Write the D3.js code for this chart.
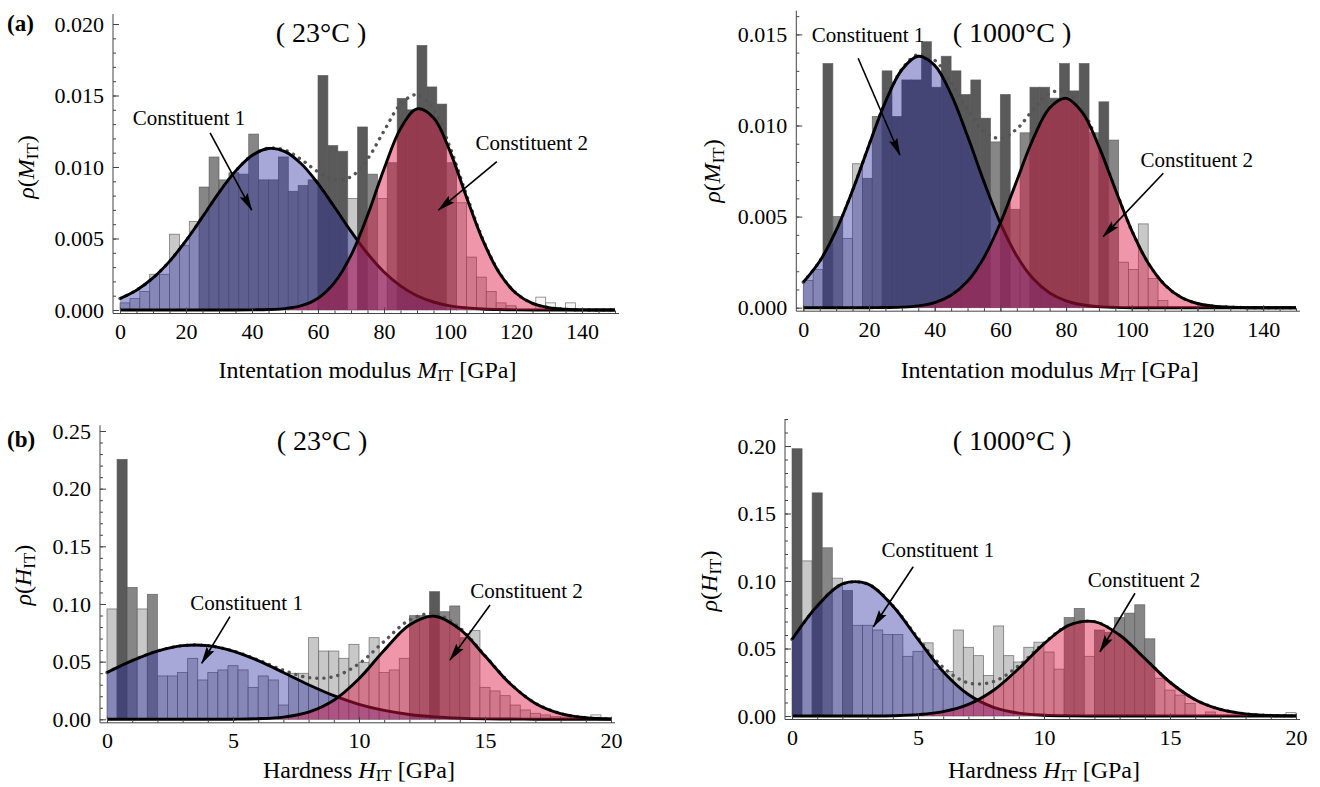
<!DOCTYPE html>
<html>
<head>
<meta charset="utf-8">
<script src="https://cdn.jsdelivr.net/npm/d3@7"></script>
<style>
  body { margin: 0; background: #fff; }
  svg { display: block; font-family: "Liberation Serif", "Times New Roman", serif; }
</style>
</head>
<body>
<svg id="fig" width="1320" height="787"></svg>
<script>
// ---------------- data ----------------
const modulusBinWidth = 3;     // GPa
const hardnessBinWidth = 0.4;  // GPa

// sample positions of the fitted density curves
const modulusGrid = [0,5,10,15,20,25,30,35,40,45,50,55,60,65,70,75,80,85,90,95,100,105,110,115,120,125,130,135,140,145,150];
const hardnessGrid = [0,1,2,3,4,5,6,7,8,9,10,11,12,13,14,15,16,17,18,19,20];

// (a) indentation modulus, 23 °C
const m23Hist = [0.0005,0.0008,0.0013,0.0025,0.0025,0.0053,0.0045,0.0062,0.0086,0.0107,
                 0.0091,0.0096,0.0095,0.0123,0.0091,0.0091,0.0107,0.0083,0.0087,0.0091,
                 0.0164,0.0115,0.0111,0.0078,0.0128,0.0095,0.0078,0.0103,0.0148,0.0140,
                 0.0185,0.0156,0.0144,0.0103,0.0075,0.0037,0.0023,0.0013,0.0005,0.0003,
                 0,0,0.0009,0.0005,0,0.0005,0,0,0,0];
const m23Overlap = [1,1,1,1,1,1,1,1,2,2, 2,2,2,2,2,2,2,2,2,2,
                    3,3,3,1,3,2,1,2,3,3, 3,3,3,2,1,1,1,1,1,1,
                    0,0,0,0,0,0,0,0,0,0];
const m23C1 = [0.00080,0.00138,0.00224,0.00340,0.00485,0.00651,0.00821,0.00971,0.01080,0.01129,0.01108,
               0.01021,0.00884,0.00720,0.00550,0.00395,0.00266,0.00169,0.00100,0.00056,0.00029,
               0.00015,0.00007,0.00003,0.00001,0,0,0,0,0,0];
const m23C2 = [0,0,0,0,0,0,0,0,0.00001,0.00003,0.00010,
               0.00030,0.00082,0.00191,0.00382,0.00661,0.00986,0.01268,0.01406,0.01345,0.01109,
               0.00789,0.00485,0.00257,0.00117,0.00046,0.00016,0.00005,0.00001,0,0];
const m23Sum = [0.00080,0.00138,0.00224,0.00340,0.00485,0.00651,0.00821,0.00971,0.01081,0.01132,0.01118,
                0.01051,0.00966,0.00911,0.00932,0.01056,0.01252,0.01437,0.01506,0.01401,0.01138,
                0.00804,0.00492,0.00260,0.00118,0.00046,0.00016,0.00005,0.00001,0,0];

// (a) indentation modulus, 1000 °C
const m1000Hist = [0.0015,0.0021,0.0134,0.0050,0.0038,0.0079,0.0071,0.0105,0.0130,0.0105,
                   0.0125,0.0125,0.0146,0.0121,0.0138,0.0130,0.0117,0.0125,0.0104,0.0091,
                   0.0117,0.0054,0.0096,0.0121,0.0121,0.0115,0.0134,0.0119,0.0134,0.0096,
                   0.0113,0.0092,0.0025,0.0021,0.0046,0.0016,0.0004,0,0,0,
                   0,0,0,0,0,0,0,0,0,0];
const m1000Overlap = [1,1,3,2,1,1,2,2,3,3, 3,3,3,3,3,3,3,3,3,2,
                      3,2,2,3,3,3,3,3,3,2, 3,2,1,1,1,1,1,0,0,0,
                      0,0,0,0,0,0,0,0,0,0];
const m1000C1 = [0.00140,0.00255,0.00424,0.00644,0.00892,0.01130,0.01306,0.01380,0.01330,0.01171,0.00942,
                 0.00692,0.00464,0.00284,0.00159,0.00081,0.00038,0.00016,0.00006,0.00002,0,
                 0,0,0,0,0,0,0,0,0,0];
const m1000C2 = [0,0,0,0,0,0.00001,0.00003,0.00010,0.00028,0.00068,0.00145,
                 0.00276,0.00465,0.00697,0.00928,0.01096,0.01149,0.01070,0.00884,0.00649,0.00423,
                 0.00245,0.00126,0.00057,0.00023,0.00008,0.00003,0,0,0,0];
const m1000Sum = [0.00140,0.00255,0.00424,0.00644,0.00892,0.01131,0.01309,0.01390,0.01358,0.01239,0.01087,
                  0.00968,0.00929,0.00981,0.01087,0.01177,0.01187,0.01086,0.00890,0.00651,0.00423,
                  0.00245,0.00126,0.00057,0.00023,0.00008,0.00003,0,0,0,0];

// (b) hardness, 23 °C
const h23Hist = [0.0957,0.2254,0.1144,0.0957,0.1084,0.0376,0.0376,0.0405,0.0529,0.0341,
                 0.0405,0.0428,0.0465,0.0428,0.0277,0.0376,0.0341,0.0124,0.0399,0.0399,
                 0.0708,0.0592,0.0592,0.0529,0.0650,0.0494,0.0708,0.0405,0.0428,0.0529,
                 0.0899,0.0899,0.1107,0.0933,0.0983,0.0708,0.0769,0.0277,0.0246,0.0205,
                 0.0124,0.0081,0.0052,0.0038,0.0023,0.0020,0,0,0.0038,0];
const h23Overlap = [1,3,2,1,2,1,1,1,1,1, 1,1,1,1,1,1,1,1,1,1,
                    1,1,1,1,1,1,1,1,1,1, 2,2,3,2,2,2,1,1,1,1,
                    1,1,1,1,1,1,0,0,0,0];
const h23C1 = [0.0406,0.0509,0.0592,0.0639,0.0639,0.0592,0.0509,0.0406,0.0300,0.0205,0.0130,
               0.0077,0.0042,0.0021,0.0010,0.0004,0.0002,0.0001,0,0,0];
const h23C2 = [0,0,0,0,0,0.0001,0.0005,0.0019,0.0062,0.0165,0.0352,
               0.0599,0.0818,0.0894,0.0782,0.0548,0.0308,0.0138,0.0050,0.0014,0.0003];
const h23Sum = [0.0406,0.0509,0.0592,0.0639,0.0639,0.0593,0.0514,0.0425,0.0362,0.0370,0.0482,
                0.0676,0.0860,0.0915,0.0792,0.0552,0.0310,0.0139,0.0050,0.0014,0.0003];

// (b) hardness, 1000 °C
const h1000Hist = [0.198,0.1149,0.1653,0.1246,0.1021,0.0929,0.0672,0.0672,0.0637,0.0604,
                   0.0604,0.0442,0.0479,0.0542,0.0347,0.0330,0.0637,0.0509,0.0447,0.0300,
                   0.0667,0.0447,0.0400,0.0509,0.0547,0.0474,0.0347,0.0729,0.0797,0.0442,
                   0.0637,0.0620,0.0729,0.0762,0.0824,0.0572,0.0280,0.0192,0.0155,0.0092,
                   0,0.0030,0,0,0,0,0,0,0,0.0025];
const h1000Overlap = [3,1,3,2,1,2,1,1,1,1, 1,1,1,1,1,1,1,1,1,1,
                      1,1,1,1,1,1,1,2,2,1, 2,2,2,2,2,2,1,1,1,1,
                      0,1,0,0,0,0,0,0,0,0];
const h1000C1 = [0.0567,0.0815,0.0978,0.0978,0.0815,0.0567,0.0328,0.0159,0.0064,0.0021,0.0006,
                 0.0001,0,0,0,0,0,0,0,0,0];
const h1000C2 = [0,0,0,0,0.0002,0.0010,0.0032,0.0086,0.0191,0.0352,0.0535,
                 0.0673,0.0699,0.0600,0.0426,0.0250,0.0121,0.0049,0.0016,0.0004,0.0001];
const h1000Sum = [0.0567,0.0815,0.0978,0.0978,0.0817,0.0577,0.0360,0.0245,0.0255,0.0373,0.0541,
                  0.0674,0.0699,0.0600,0.0426,0.0250,0.0121,0.0049,0.0016,0.0004,0.0001];

const modulusTicks = [0,20,40,60,80,100,120,140];
const hardnessTicks = [0,5,10,15,20];
const m23YTicks = [0,0.005,0.010,0.015,0.020];
const m1000YTicks = [0,0.005,0.010,0.015];
const h23YTicks = [0,0.05,0.10,0.15,0.20,0.25];
const h1000YTicks = [0,0.05,0.10,0.15,0.20];

const titles = ["( 23°C )", "( 1000°C )", "( 23°C )", "( 1000°C )"];
const labelC1 = "Constituent 1";
const labelC2 = "Constituent 2";

// ---------------- layout ----------------
const panels = [
  { hist: m23Hist, overlap: m23Overlap, bin: modulusBinWidth, grid: modulusGrid,
    c1: m23C1, c2: m23C2, sum: m23Sum, title: titles[0], qty: "M", xWord: "Intentation modulus ",
    xDom: [0,150], xPix: [120,615], yDom: [0,0.02], yPix: [310,24], yTop: 0.0207,
    xMajor: modulusTicks, xMinorStep: 5, yMajor: m23YTicks, yMinorStep: 0.001, yFmt: ".3f",
    titlePos: [321,42], yLabelX: 34, xLabelY: 378,
    ann: [[20.9,0.01294, 27.3,0.01238, 39.9,0.00699], [124.8,0.01119, 114.2,0.01037, 96.5,0.00699]] },
  { hist: m1000Hist, overlap: m1000Overlap, bin: modulusBinWidth, grid: modulusGrid,
    c1: m1000C1, c2: m1000C2, sum: m1000Sum, title: titles[1], qty: "M", xWord: "Intentation modulus ",
    xDom: [0,150], xPix: [803.3,1296], yDom: [0,0.015], yPix: [307.7,34.4], yTop: 0.0163,
    xMajor: modulusTicks, xMinorStep: 5, yMajor: m1000YTicks, yMinorStep: 0.001, yFmt: ".3f",
    titlePos: [1012,42], yLabelX: 720, xLabelY: 378,
    ann: [[19.7,0.01460, 16.7,0.01369, 29.4,0.00838], [119.8,0.00774, 109.6,0.00738, 91.3,0.00390]] },
  { hist: h23Hist, overlap: h23Overlap, bin: hardnessBinWidth, grid: hardnessGrid,
    c1: h23C1, c2: h23C2, sum: h23Sum, title: titles[2], qty: "H", xWord: "Hardness ",
    xDom: [0,20], xPix: [107,611], yDom: [0,0.25], yPix: [719.3,431], yTop: 0.255,
    xMajor: hardnessTicks, xMinorStep: 1, yMajor: h23YTicks, yMinorStep: 0.01, yFmt: ".2f",
    titlePos: [322,450], yLabelX: 31, xLabelY: 778,
    ann: [[5.54,0.0948, 4.88,0.0890, 3.76,0.0486], [16.65,0.1052, 15.2,0.0991, 13.61,0.0514]] },
  { hist: h1000Hist, overlap: h1000Overlap, bin: hardnessBinWidth, grid: hardnessGrid,
    c1: h1000C1, c2: h1000C2, sum: h1000Sum, title: titles[3], qty: "H", xWord: "Hardness ",
    xDom: [0,20], xPix: [792,1296], yDom: [0,0.20], yPix: [716,446], yTop: 0.22,
    xMajor: hardnessTicks, xMinorStep: 1, yMajor: h1000YTicks, yMinorStep: 0.01, yFmt: ".2f",
    titlePos: [1012,450], yLabelX: 717, xLabelY: 778,
    ann: [[5.79,0.1180, 4.81,0.1106, 3.23,0.0661], [13.97,0.0958, 13.61,0.0909, 12.22,0.0476]] }
];

// bar shade by number of overlapping sample histograms in a bin
const shade = d3.scaleOrdinal().domain([0,1,2,3]).range(["#f6f6f6", "#c8c8c8", "#868686", "#5a5a5a"]);
const blueFill = "rgb(38,38,158)";
const blueOpacity = 0.4;
const pinkFill = "rgb(222,22,66)";
const pinkOpacity = 0.45;

const svg = d3.select("#fig");
const defs = svg.append("defs");
defs.append("marker")
  .attr("id", "arrowhead")
  .attr("viewBox", "0 0 18 10")
  .attr("refX", 17).attr("refY", 5)
  .attr("markerWidth", 18).attr("markerHeight", 10)
  .attr("markerUnits", "userSpaceOnUse")
  .attr("orient", "auto")
  .append("path").attr("d", "M0,0.5L18,5L0,9.5L3,5Z").attr("fill", "#000");

panels.forEach(p => {
  const g = svg.append("g");
  const x = d3.scaleLinear().domain(p.xDom).range(p.xPix);
  const y = d3.scaleLinear().domain(p.yDom).range(p.yPix);
  const axX = x(p.xDom[0]) - 7;
  const axY = y(0) + 3.5;

  // histogram bars
  g.append("g").selectAll("rect")
    .data(p.hist.map((h, i) => ({ h, i, lvl: p.overlap[i] })).filter(d => d.h > 0))
    .join("rect")
      .attr("x", d => x(d.i * p.bin))
      .attr("width", d => x((d.i + 1) * p.bin) - x(d.i * p.bin))
      .attr("y", d => y(d.h))
      .attr("height", d => y(0) - y(d.h))
      .attr("fill", d => shade(d.lvl))
      .attr("stroke", "#555")
      .attr("stroke-opacity", 0.75)
      .attr("stroke-width", 0.8);

  const pts = arr => p.grid.map((g0, i) => [g0, arr[i]]);
  const line = d3.line().x(d => x(d[0])).y(d => y(d[1])).curve(d3.curveCatmullRom.alpha(0.5));
  const area = d3.area().x(d => x(d[0])).y0(y(0)).y1(d => y(d[1])).curve(d3.curveCatmullRom.alpha(0.5));

  // mixture (sum) density, dotted
  g.append("path").attr("d", line(pts(p.sum)))
    .attr("fill", "none").attr("stroke", "#555").attr("stroke-width", 3.4)
    .attr("stroke-linecap", "round").attr("stroke-dasharray", "0.1 7");

  // constituent 1
  g.append("path").attr("d", area(pts(p.c1))).attr("fill", blueFill).attr("fill-opacity", blueOpacity);
  g.append("path").attr("d", line(pts(p.c1))).attr("fill", "none").attr("stroke", "#000").attr("stroke-width", 2.9);
  // constituent 2
  g.append("path").attr("d", area(pts(p.c2))).attr("fill", pinkFill).attr("fill-opacity", pinkOpacity);
  g.append("path").attr("d", line(pts(p.c2))).attr("fill", "none").attr("stroke", "#000").attr("stroke-width", 2.9);

  // axes
  const yMinor = d3.range(0, p.yTop + 1e-9, p.yMinorStep);
  const xMinor = d3.range(p.xDom[0], p.xDom[1] + 1e-9, p.xMinorStep);

  const ya = g.append("g").attr("transform", `translate(${axX},0)`);
  ya.call(d3.axisLeft(y).tickValues(yMinor).tickSizeInner(-3).tickSizeOuter(0).tickFormat(""));
  ya.call(gg => gg.select(".domain").remove());
  const yb = g.append("g").attr("transform", `translate(${axX},0)`);
  yb.call(d3.axisLeft(y).tickValues(p.yMajor).tickSizeInner(-6).tickSizeOuter(0).tickPadding(9).tickFormat(d3.format(p.yFmt)));
  yb.call(gg => gg.select(".domain").remove());
  yb.append("line").attr("x1", 0).attr("x2", 0).attr("y1", y(p.yTop)).attr("y2", axY).attr("stroke", "#444");

  const xa = g.append("g").attr("transform", `translate(0,${axY})`);
  xa.call(d3.axisBottom(x).tickValues(xMinor).tickSizeInner(-3).tickSizeOuter(0).tickFormat(""));
  xa.call(gg => gg.select(".domain").remove());
  const xb = g.append("g").attr("transform", `translate(0,${axY})`);
  xb.call(d3.axisBottom(x).tickValues(p.xMajor).tickSizeInner(-6).tickSizeOuter(0).tickPadding(10).tickFormat(d3.format("d")));
  xb.call(gg => gg.select(".domain").remove());
  xb.append("line").attr("x1", axX).attr("x2", x(p.xDom[1]) + 4).attr("y1", 0).attr("y2", 0).attr("stroke", "#444");

  [ya, yb, xa, xb].forEach(a => {
    a.attr("font-family", "Liberation Serif, Times New Roman, serif").attr("font-size", 22);
    a.selectAll(".tick line").attr("stroke", "#444");
    a.selectAll(".tick text").attr("fill", "#000");
  });

  // axis titles
  const xl = g.append("text").attr("x", (p.xPix[0] + p.xPix[1]) / 2).attr("y", p.xLabelY)
    .attr("text-anchor", "middle").attr("font-size", 24);
  xl.append("tspan").text(p.xWord);
  xl.append("tspan").attr("font-style", "italic").text(p.qty);
  xl.append("tspan").attr("font-size", 17).attr("dy", 3).text("IT");
  xl.append("tspan").attr("dy", -3).text(" [GPa]");

  const yl = g.append("text")
    .attr("transform", `translate(${p.yLabelX},${(p.yPix[0] + p.yPix[1]) / 2}) rotate(-90)`)
    .attr("text-anchor", "middle").attr("font-size", 24);
  yl.append("tspan").attr("font-style", "italic").text("ρ");
  yl.append("tspan").text("(");
  yl.append("tspan").attr("font-style", "italic").text(p.qty);
  yl.append("tspan").attr("font-size", 17).attr("dy", 4).text("IT");
  yl.append("tspan").attr("dy", -4).text(")");

  // temperature heading
  g.append("text").attr("x", p.titlePos[0]).attr("y", p.titlePos[1])
    .attr("text-anchor", "middle").attr("font-size", 28).text(p.title);

  // constituent annotations
  [labelC1, labelC2].forEach((lab, k) => {
    const a = p.ann[k];
    g.append("text").attr("x", x(a[0])).attr("y", y(a[1]))
      .attr("text-anchor", "middle").attr("font-size", 21).text(lab);
    g.append("line")
      .attr("x1", x(a[2])).attr("y1", y(a[3]))
      .attr("x2", x(a[4])).attr("y2", y(a[5]))
      .attr("stroke", "#000").attr("stroke-width", 1.6)
      .attr("marker-end", "url(#arrowhead)");
  });
});

// figure part letters
svg.append("text").attr("x", 7).attr("y", 31).attr("font-size", 23).attr("font-weight", "bold").text("(a)");
svg.append("text").attr("x", 7).attr("y", 447).attr("font-size", 23).attr("font-weight", "bold").text("(b)");
</script>
</body>
</html>
